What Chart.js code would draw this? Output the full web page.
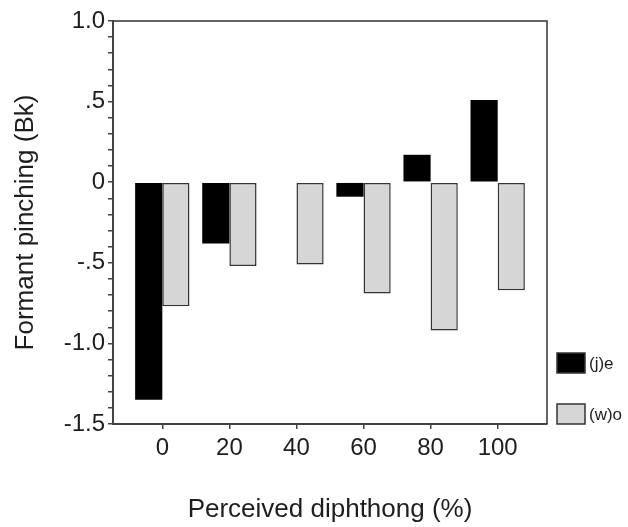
<!DOCTYPE html>
<html>
<head>
<meta charset="utf-8">
<script src="https://cdn.jsdelivr.net/npm/chart.js@4"></script>
<style>
  html, body { margin: 0; padding: 0; background: #fff; }
  #wrap { width: 628px; height: 527px; }
</style>
</head>
<body>
<div id="wrap"><canvas id="pinchChart" width="628" height="527"></canvas></div>
<script>
// Perceived diphthong (%) categories and formant pinching values (Bk)
const categories = [0, 20, 40, 60, 80, 100];
const jeValues = [-1.35, -0.38, 0, -0.09, 0.17, 0.51];
const woValues = [-0.77, -0.52, -0.51, -0.69, -0.92, -0.67];
const yTickLabels = { '1': '1.0', '0.5': '.5', '0': '0', '-0.5': '-.5', '-1': '-1.0', '-1.5': '-1.5' };

const FONT = "'Liberation Sans', Arial, sans-serif";
const INK = '#1e1e1e';

// frame around the plot and the legend at the lower right
const framePlugin = {
    id: 'frame',
    afterDraw(chart) {
        const { ctx, chartArea } = chart;
        ctx.save();
        ctx.strokeStyle = '#333';
        ctx.lineWidth = 1.5;
        ctx.beginPath();
        ctx.moveTo(chartArea.left, chartArea.top);
        ctx.lineTo(chartArea.right, chartArea.top);
        ctx.lineTo(chartArea.right, chartArea.bottom);
        ctx.stroke();

        const boxX = chartArea.right + 10;
        const tops = [chartArea.bottom - 71, chartArea.bottom - 20];
        ctx.font = '17px ' + FONT;
        ctx.textBaseline = 'middle';
        chart.data.datasets.forEach((ds, i) => {
            ctx.fillStyle = ds.backgroundColor;
            ctx.fillRect(boxX, tops[i], 28, 20);
            ctx.strokeStyle = '#333';
            ctx.lineWidth = 1.5;
            ctx.strokeRect(boxX, tops[i], 28, 20);
            ctx.fillStyle = INK;
            ctx.fillText(ds.label, boxX + 32, tops[i] + 11);
        });
        ctx.restore();
    }
};

new Chart(document.getElementById('pinchChart'), {
    type: 'bar',
    data: {
        datasets: [{
            label: '(j)e',
            data: categories.map((c, i) => ({ x: c, y: jeValues[i] })),
            backgroundColor: '#000',
            borderColor: '#000',
            borderWidth: 0
        }, {
            label: '(w)o',
            data: categories.map((c, i) => ({ x: c, y: woValues[i] })),
            backgroundColor: '#d6d6d6',
            borderColor: '#333',
            borderWidth: 1.5,
            borderSkipped: false
        }]
    },
    options: {
        responsive: false,
        animation: false,
        datasets: { bar: { categoryPercentage: 0.81, barPercentage: 1.0 } },
        layout: { padding: { top: 21, right: 81, left: 0, bottom: 0 } },
        scales: {
            x: {
                type: 'linear',
                offset: false,
                min: -14.7,
                max: 114.7,
                afterBuildTicks: scale => {
                    scale.ticks = categories.map(v => ({ value: v }));
                },
                afterFit: scale => { scale.height = 103; },
                grid: { offset: false, drawOnChartArea: false, tickLength: 5, color: '#444', lineWidth: 1.5 },
                border: { color: '#444', width: 2 },
                ticks: { color: INK, font: { family: FONT, size: 24 }, padding: 5 },
                title: {
                    display: true,
                    text: 'Perceived diphthong (%)',
                    color: INK,
                    font: { family: FONT, size: 26 },
                    padding: { top: 0, bottom: 2 }
                }
            },
            y: {
                min: -1.5,
                max: 1.0,
                afterFit: scale => { scale.width = 113; },
                grid: { drawOnChartArea: false, tickLength: 5, color: '#444', lineWidth: 1.5 },
                border: { color: '#444', width: 2 },
                ticks: {
                    stepSize: 0.1,
                    autoSkip: false,
                    color: INK,
                    font: { family: FONT, size: 24 },
                    padding: 3,
                    callback: v => {
                        const key = String(Math.round(v * 10) / 10);
                        return yTickLabels[key] !== undefined ? yTickLabels[key] : '';
                    }
                },
                title: {
                    display: true,
                    text: 'Formant pinching (Bk)',
                    color: INK,
                    font: { family: FONT, size: 26 },
                    padding: { top: 10, bottom: 2 }
                }
            }
        },
        plugins: {
            legend: { display: false },
            tooltip: { enabled: false }
        }
    },
    plugins: [framePlugin]
});
</script>
</body>
</html>
